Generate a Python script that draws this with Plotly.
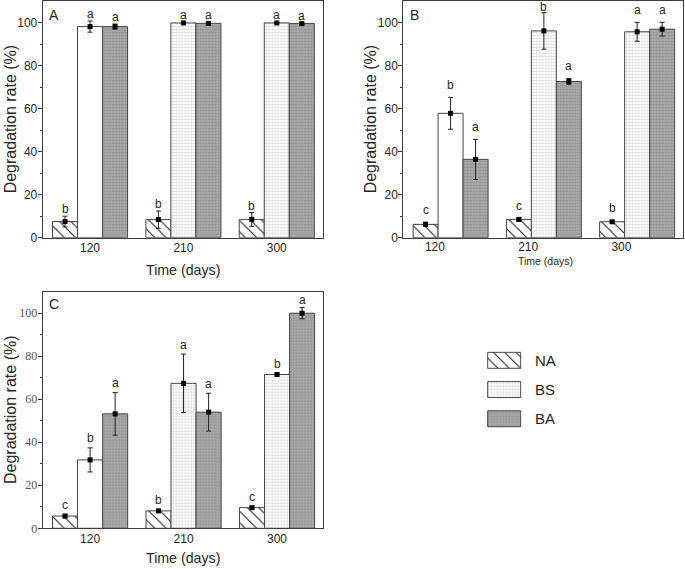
import plotly.graph_objects as go

# ---------------- data ----------------
days = ["120", "210", "300"]
groups = ["NA", "BS", "BA"]

# Panel A
a_NA = [7.5, 8.4, 8.5]
a_NA_err = [2.5, 4.0, 3.2]
a_BS = [98.1, 99.8, 99.8]
a_BS_err = [2.6, 0.5, 0.4]
a_BA = [98.1, 99.6, 99.5]
a_BA_err = [1.2, 0.7, 0.5]
a_NA_lab = ["b", "b", "b"]
a_BS_lab = ["a", "a", "a"]
a_BA_lab = ["a", "a", "a"]

# Panel B
b_NA = [6.2, 8.5, 7.4]
b_NA_err = [1.0, 0.7, 0.6]
b_BS = [57.8, 96.1, 95.7]
b_BS_err = [7.4, 8.5, 4.4]
b_BA = [36.4, 72.6, 96.9]
b_BA_err = [9.3, 1.4, 3.2]
b_NA_lab = ["c", "c", "b"]
b_BS_lab = ["b", "b", "a"]
b_BA_lab = ["a", "a", "a"]

# Panel C
c_NA = [5.7, 8.1, 9.6]
c_NA_err = [0.8, 0.5, 0.6]
c_BS = [31.8, 67.4, 71.5]
c_BS_err = [5.6, 13.6, 0.6]
c_BA = [53.2, 54.0, 100.0]
c_BA_err = [9.9, 8.8, 2.6]
c_NA_lab = ["c", "b", "c"]
c_BS_lab = ["b", "a", "b"]
c_BA_lab = ["a", "a", "a"]

# ---------------- styles ----------------
W, H = 685, 569
SANS = "Liberation Sans, Arial, sans-serif"
SERIF = "Liberation Serif, Times New Roman, serif"
TXT = "#262626"
LINE = "#3c3c3c"
BARW = 0.268
OFFS = [-BARW, 0.0, BARW]
LABEL_CAP = 101.5  # keep significance letters inside the frame

STY = {
    "NA": dict(shape="\\", bg="white", fg="#222222", size=8, sol=0.14),
    "BS": dict(shape=".", bg="white", fg="#d2d2d2", size=3, sol=0.3),
    "BA": dict(shape=".", bg="#a9a9a9", fg="#939393", size=3, sol=0.4),
}


def px2x(p):
    return p / W


def px2y(p):
    return (H - p) / H


panels = [
    dict(name="A", ax="", data=[(a_NA, a_NA_err, a_NA_lab), (a_BS, a_BS_err, a_BS_lab), (a_BA, a_BA_err, a_BA_lab)],
         xd=[42.7, 323.0], yd=[1.0, 237.7], tickshift=0.0, gap=3.0, serif=False,
         label_xy=(53.7, 14.7), ytitle_x=10, xtitle=(183, 269.5, 14.2), tls=-1),
    dict(name="B", ax="2", data=[(b_NA, b_NA_err, b_NA_lab), (b_BS, b_BS_err, b_BS_lab), (b_BA, b_BA_err, b_BA_lab)],
         xd=[403.3, 683.3], yd=[1.0, 237.7], tickshift=-0.168, gap=8.0, serif=False,
         label_xy=(414.3, 14.7), ytitle_x=370, xtitle=(545.7, 260.5, 10.5), tls=-2),
    dict(name="C", ax="3", data=[(c_NA, c_NA_err, c_NA_lab), (c_BS, c_BS_err, c_BS_lab), (c_BA, c_BA_err, c_BA_lab)],
         xd=[42.7, 323.3], yd=[291.7, 528.3], tickshift=0.0, gap=5.5, serif=True,
         label_xy=(53.7, 304.3), ytitle_x=10, xtitle=(183, 558, 14.2), tls=-1),
]

fig = go.Figure()
annotations = []
layout = {}


def bar_marker(g, shapes):
    s = STY[g]
    return dict(color=s["bg"], line=dict(color="#454545", width=1),
                pattern=dict(shape=shapes, bgcolor=s["bg"], fgcolor=s["fg"],
                             size=s["size"], solidity=s["sol"], fillmode="replace"))


for p in panels:
    xa, ya = "x" + p["ax"], "y" + p["ax"]
    for j, g in enumerate(groups):
        vals, errs, labs = p["data"][j]
        s = STY[g]
        xs = [i + OFFS[j] for i in range(len(days))]
        shapes = [s["shape"]] * len(days)
        if g == "BS":
            shapes[0] = ""  # first BS bar is plain white in the reference
        fig.add_trace(go.Bar(
            x=xs, y=vals, width=BARW, xaxis=xa, yaxis=ya, showlegend=False,
            marker=bar_marker(g, shapes),
        ))
        fig.add_trace(go.Scatter(
            x=xs, y=vals, xaxis=xa, yaxis=ya, mode="markers", showlegend=False, cliponaxis=False,
            marker=dict(symbol="square", size=5, color="black"),
            error_y=dict(type="data", array=errs, visible=True, color="#222222", thickness=1, width=2.5),
        ))
        for i in range(len(days)):
            annotations.append(dict(
                x=xs[i], y=min(vals[i] + errs[i], LABEL_CAP), xref=xa, yref=ya, text=labs[i], showarrow=False,
                yanchor="bottom", yshift=p["gap"] - 5, font=dict(family=SANS, size=12, color=TXT)))

    key = p["ax"]
    layout["xaxis" + key] = dict(
        domain=[px2x(p["xd"][0]), px2x(p["xd"][1])], anchor=ya, range=[-0.507, 2.495],
        tickvals=[i + p["tickshift"] for i in range(len(days))], ticktext=days,
        showline=True, mirror=True, linecolor=LINE, linewidth=1, ticks="", showgrid=False, zeroline=False,
        automargin=False, ticklabelstandoff=p["tls"],
        tickfont=dict(family=SANS, size=12, color=TXT),
    )
    layout["yaxis" + key] = dict(
        domain=[px2y(p["yd"][1]), px2y(p["yd"][0])], anchor=xa, range=[0, 110],
        tickvals=[0, 20, 40, 60, 80, 100], automargin=False, ticklabelstandoff=-2,
        showline=True, mirror=True, linecolor=LINE, linewidth=1, ticks="outside", ticklen=4,
        tickcolor=LINE, showgrid=False, zeroline=False,
        minor=dict(tickvals=[10, 30, 50, 70, 90], ticks="outside", ticklen=2, tickcolor=LINE),
        tickfont=dict(family=SERIF if p["serif"] else SANS, size=12, color="#555555" if p["serif"] else TXT),
    )
    annotations.append(dict(x=px2x(p["label_xy"][0]), y=px2y(p["label_xy"][1]), xref="paper", yref="paper",
                            text=p["name"], showarrow=False, xanchor="center", yanchor="middle",
                            font=dict(family=SANS, size=14, color=TXT)))
    ymid = (p["yd"][0] + p["yd"][1]) / 2
    annotations.append(dict(x=px2x(p["ytitle_x"]), y=px2y(ymid), xref="paper", yref="paper",
                            text="Degradation rate (%)", textangle=-90, showarrow=False,
                            xanchor="center", yanchor="middle",
                            font=dict(family=SANS, size=16, color=TXT)))
    xt = p["xtitle"]
    annotations.append(dict(x=px2x(xt[0]), y=px2y(xt[1]), xref="paper", yref="paper",
                            text="Time (days)", showarrow=False, xanchor="center", yanchor="middle",
                            font=dict(family=SANS, size=xt[2], color=TXT)))

# ---------------- legend (drawn as a small bar axis) ----------------
for g in groups:
    fig.add_trace(go.Bar(
        y=[g], x=[1], orientation="h", width=0.546, xaxis="x4", yaxis="y4", showlegend=False,
        marker=bar_marker(g, STY[g]["shape"]),
    ))
layout["xaxis4"] = dict(domain=[px2x(486.7), px2x(521.7)], anchor="y4", range=[-0.03, 1.03],
                        visible=False, automargin=False)
layout["yaxis4"] = dict(domain=[px2y(433.4), px2y(345.7)], anchor="x4", range=[2.5, -0.5],
                        type="category", categoryarray=groups, visible=False, automargin=False)
for k, g in enumerate(groups):
    annotations.append(dict(x=px2x(533), y=px2y(360.3 + k * 29.3), xref="paper", yref="paper",
                            text=g, showarrow=False, xanchor="left", yanchor="middle",
                            font=dict(family=SANS, size=15, color=TXT)))

fig.update_layout(
    template="none",
    width=W, height=H, margin=dict(l=0, r=0, t=0, b=0, autoexpand=False), paper_bgcolor="white",
    plot_bgcolor="white", barmode="overlay", annotations=annotations, **layout,
)
fig.write_html(
    "out.html",
    config={"displayModeBar": False},
    post_script="document.body.style.margin='0';document.body.style.overflow='hidden';",
)
